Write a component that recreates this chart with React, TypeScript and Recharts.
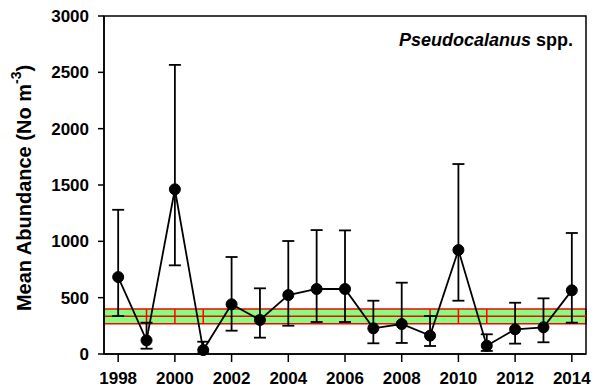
import React from "react";
import {
  ComposedChart,
  Line,
  XAxis,
  YAxis,
  ErrorBar,
  ReferenceArea,
  ReferenceLine,
} from "recharts";

const years = [1998, 1999, 2000, 2001, 2002, 2003, 2004, 2005, 2006, 2007, 2008, 2009, 2010, 2011, 2012, 2013, 2014];
const means = [683, 121, 1462, 35, 441, 302, 523, 577, 577, 228, 266, 163, 923, 74, 219, 237, 565];
const upper = [1280, 278, 2566, 109, 861, 583, 1003, 1100, 1097, 473, 633, 337, 1686, 175, 455, 494, 1074];
const lower = [337, 47, 787, 5, 207, 145, 251, 284, 284, 95, 98, 71, 473, 27, 92, 104, 278];

const bandLow = 268;
const bandMid = 336;
const bandHigh = 400;
const bandDividers = [1999, 2000, 2001, 2009, 2010, 2011];

const xTicks = [1998, 2000, 2002, 2004, 2006, 2008, 2010, 2012, 2014];
const yTicks = [0, 500, 1000, 1500, 2000, 2500, 3000];

const data = years.map((y, i) => ({
  year: y,
  mean: means[i],
  err: [means[i] - lower[i], upper[i] - means[i]],
}));

const FONT = "'Liberation Sans', Arial, sans-serif";

const YLabel = () => (
  <text
    x={24}
    y={188}
    transform="rotate(-90 24 188)"
    textAnchor="middle"
    dominantBaseline="central"
    fontFamily={FONT}
    fontWeight="bold"
    fontSize={20}
    fill="#000"
  >
    Mean Abundance (No m
    <tspan baselineShift="super" fontSize={14}>-3</tspan>
    )
  </text>
);

export default function App() {
  return (
    <div style={{ position: "absolute", left: 0, top: 0, width: 597, height: 387 }}>
      <ComposedChart
        width={597}
        height={387}
        data={data}
        margin={{ top: 16, right: 11, left: 0, bottom: 0 }}
      >
        <ReferenceArea
          x1={1997.5}
          x2={2014.5}
          y1={bandLow}
          y2={bandHigh}
          fill="#80ff80"
          fillOpacity={1}
          stroke="#ff0000"
          strokeWidth={1.5}
        />
        <ReferenceLine y={bandMid} stroke="#ff0000" strokeWidth={1.5} />
        {bandDividers.map((d) => (
          <ReferenceLine
            key={d}
            segment={[
              { x: d, y: bandLow },
              { x: d, y: bandHigh },
            ]}
            stroke="#ff0000"
            strokeWidth={1.5}
          />
        ))}
        <ReferenceArea
          x1={1997.5}
          x2={2014.5}
          y1={0}
          y2={3000}
          fill="none"
          stroke="#000"
          strokeWidth={1.5}
        />
        <XAxis
          dataKey="year"
          type="number"
          domain={[1997.5, 2014.5]}
          ticks={xTicks}
          height={33}
          tickSize={8}
          tickMargin={10}
          axisLine={{ stroke: "#000", strokeWidth: 1.5 }}
          tickLine={{ stroke: "#000", strokeWidth: 1.5 }}
          tick={{ fill: "#000", fontFamily: FONT, fontWeight: "bold", fontSize: 17 }}
          interval={0}
        />
        <YAxis
          type="number"
          domain={[0, 3000]}
          ticks={yTicks}
          width={104}
          tickSize={6}
          tickMargin={9}
          axisLine={{ stroke: "#000", strokeWidth: 1.5 }}
          tickLine={{ stroke: "#000", strokeWidth: 1.5 }}
          tick={{ fill: "#000", fontFamily: FONT, fontWeight: "bold", fontSize: 17 }}
          interval={0}
          label={<YLabel />}
        />
        <Line
          dataKey="mean"
          stroke="#000"
          strokeWidth={1.8}
          dot={{ r: 5.5, fill: "#000", stroke: "#000", strokeWidth: 1 }}
          isAnimationActive={false}
        >
          <ErrorBar dataKey="err" width={6} stroke="#000" strokeWidth={1.8} direction="y" />
        </Line>
      </ComposedChart>
      <div
        style={{
          position: "absolute",
          right: 24,
          top: 30,
          fontFamily: FONT,
          fontWeight: "bold",
          fontSize: 18,
          color: "#000",
          whiteSpace: "nowrap",
          lineHeight: "20px",
        }}
      >
        <i>Pseudocalanus</i> spp.
      </div>
    </div>
  );
}
